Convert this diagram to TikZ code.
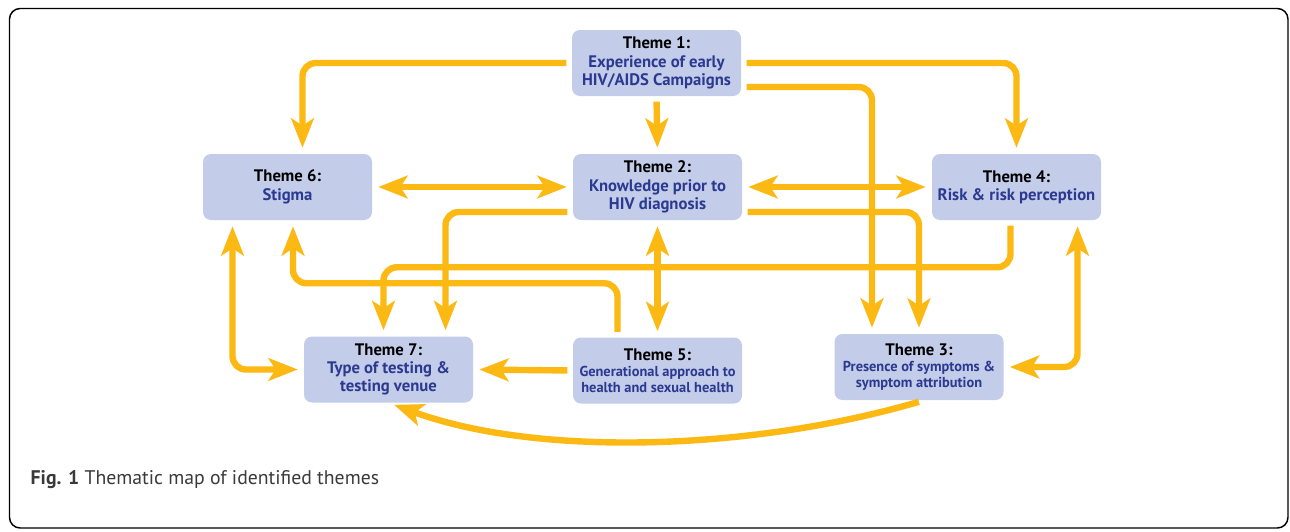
\documentclass[tikz,border=0pt]{standalone}
\usepackage{fontspec}
\setmainfont{PT Sans}
\usepackage{xcolor}
\usepackage{tikz}
\usetikzlibrary{arrows.meta,calc}
\definecolor{themeFill}{HTML}{C3CCE9}
\definecolor{themeNavy}{HTML}{2B3990}
\definecolor{themeAmber}{HTML}{FDB913}
\definecolor{themeCaption}{HTML}{3A3A3A}
\newcommand{\themeSub}[1]{{\fontsize{10.8}{11.3}\selectfont #1}}
\tikzset{
  theme/.style={
    rectangle,
    rounded corners=6pt,
    fill=themeFill,
    minimum width=126.75pt,
    minimum height=49.5pt,
    inner sep=2pt,
    align=center,
    text=themeNavy,
    font=\fontsize{12.5}{13.8}\selectfont\bfseries
  },
  themeSmall/.style={
    theme,
    font=\fontsize{12.5}{12}\selectfont\bfseries
  },
  flow/.style={
    -{Stealth[length=22pt,width=17pt,inset=5.5pt]},
    line width=4.8pt,
    draw=themeAmber,
    rounded corners=10pt,
    shorten >=4.5pt,
    shorten <=4pt
  },
  flowBoth/.style={
    flow,
    {Stealth[length=22pt,width=17pt,inset=5.5pt]}-{Stealth[length=22pt,width=17pt,inset=5.5pt]},
    shorten <=4.5pt
  },
  frame/.style={
    draw=black,
    line width=1.1pt,
    rounded corners=8pt
  }
}

\begin{document}
\begin{tikzpicture}[x=0.75pt,y=-0.75pt]
  \useasboundingbox (0,0) rectangle (1290,532);
  \draw[frame] (9.5,8.5) rectangle (1288,528);
  \node[theme] (t1) at (656.5,63) {\textcolor{black}{Theme 1:}\\Experience of early\\HIV/AIDS Campaigns};
  \node[theme] (t6) at (287.5,187) {\textcolor{black}{Theme 6:}\\Stigma};
  \node[theme] (t2) at (657.5,187) {\textcolor{black}{Theme 2:}\\Knowledge prior to\\HIV diagnosis};
  \node[theme] (t4) at (1016.5,187) {\textcolor{black}{Theme 4:}\\Risk \& risk perception};
  \node[theme] (t7) at (388.5,369.5) {\textcolor{black}{Theme 7:}\\Type of testing \&\\testing venue};
  \node[themeSmall] (t5) at (657.5,370.5) {\textcolor{black}{Theme 5:}\\\themeSub{Generational approach to}\\\themeSub{health and sexual health}};
  \node[themeSmall] (t3) at (919,367) {\textcolor{black}{Theme 3:}\\\themeSub{Presence of symptoms \&}\\\themeSub{symptom attribution}};
  \node[anchor=base west,font=\fontsize{14.8}{17}\selectfont,text=themeCaption] (caption) at (26,484) {\textbf{Fig. 1} Thematic map of identified themes};
  \draw[flow] (t1.west) -| ($(t6.north)+(15,0)$);
  \draw[flow] (t1.south) -- (t2.north);
  \draw[flow] (t1.east) -| (t4.north);
  \draw[flow] ($(t1.east)+(0,24)$) -| ($(t3.north)+(-47,0)$);
  \draw[flowBoth] (t6.east) -- (t2.west);
  \draw[flowBoth] (t2.east) -- (t4.west);
  \draw[flow] ($(t2.west)+(0,25)$) -| ($(t7.north)+(57,0)$);
  \draw[flow] ($(t2.east)+(0,25)$) -| (t3.north);
  \draw[flowBoth] (t2.south) -- (t5.north);
  \draw[flow] ($(t4.south)+(-6,0)$) -- ++(0,47) -| ($(t7.north)+(-5,0)$);
  \draw[flow] ($(t5.north)+(-40,0)$) -- ++(0,-54) -| ($(t6.south)+(5.5,0)$);
  \draw[flowBoth] ($(t6.south)+(-55,0)$) |- (t7.west);
  \draw[flow] (t5.west) -- (t7.east);
  \draw[flowBoth] ($(t4.south)+(61,0)$) |- (t3.east);
  \draw[flow] ($(t3.south)+(5,0)$) .. controls +(-170,50) and +(150,55) .. (t7.south);
\end{tikzpicture}
\end{document}
